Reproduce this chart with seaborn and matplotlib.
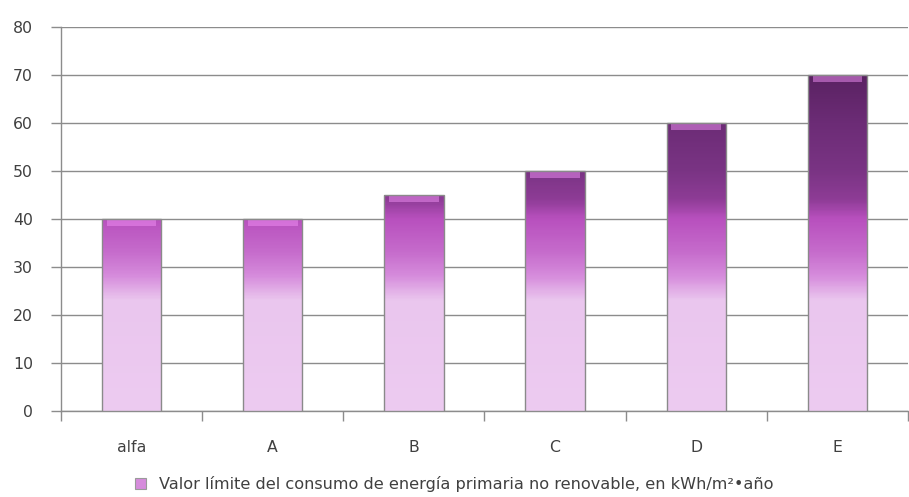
import numpy as np
import pandas as pd
import matplotlib
matplotlib.use("Agg")
import matplotlib.pyplot as plt
import seaborn as sns
from matplotlib.colors import LinearSegmentedColormap, Normalize
from matplotlib.patches import Patch

# data
categories = ["alfa", "A", "B", "C", "D", "E"]
values = [40, 40, 45, 50, 60, 70]
legend_label = "Valor límite del consumo de energía primaria no renovable, en kWh/m²•año"

# gradient (light pink at bottom, dark purple at top)
grad_stops = [0, 23, 28, 33, 40, 44, 50, 60, 70]
grad_colors = ["#edcbf1", "#eac6ee", "#d68cdc", "#c66ccc", "#b850be",
               "#8e3c96", "#7a3484", "#6c2c76", "#5a2262"]

cmap = LinearSegmentedColormap.from_list(
    "purp", list(zip(np.array(grad_stops) / 70, grad_colors)))
norm = Normalize(0, 70)

df = pd.DataFrame({"cat": categories, "val": values})

sns.set_style("white")
plt.rcParams["font.family"] = ["DejaVu Sans"]

fig = plt.figure(figsize=(9.09, 4.97), dpi=100)
ax = fig.add_axes([0.067, 0.173, 0.932, 0.7727])

sns.barplot(data=df, x="cat", y="val", color="#c262c8", width=0.42,
            edgecolor="#8a8a8a", linewidth=1.0, ax=ax, zorder=3)

# gradient fill clipped to each bar
for p in ax.patches:
    x0 = p.get_x()
    w = p.get_width()
    h = p.get_height()
    ys = np.linspace(0, h, 200).reshape(-1, 1)
    img = ax.imshow(cmap(norm(ys)), extent=[x0, x0 + w, 0, h], origin="lower",
                    aspect="auto", zorder=3.5, interpolation="bilinear")
    img.set_clip_path(p)
    # bevel highlight at top
    ax.fill_between([x0 + w * 0.08, x0 + w * 0.92], h - 1.5, h,
                    color="#f090f4", alpha=0.5, zorder=3.6, linewidth=0)
    p.set_facecolor("none")
    p.set_zorder(4)

ax.set_xlim(-0.5, len(categories) - 0.5)
ax.set_ylim(0, 80)
ax.set_yticks(range(0, 81, 10))
ax.yaxis.grid(True, color="#8c8c8c", linewidth=1.0, zorder=0)
ax.set_axisbelow(True)

# tick marks between categories
ax.set_xticks(np.arange(len(categories) + 1) - 0.5, minor=True)
ax.set_xticks(range(len(categories)))
ax.set_xticklabels(categories)
ax.tick_params(axis="x", which="major", length=0, pad=21, labelsize=11.3,
               labelcolor="#404040")
ax.tick_params(axis="x", which="minor", length=7, width=1, color="#8c8c8c",
               bottom=True)
ax.tick_params(axis="y", length=7.2, width=1, color="#8c8c8c", pad=13,
               labelsize=11.3, labelcolor="#404040", left=True)

ax.set_xlabel("")
ax.set_ylabel("")
sns.despine(ax=ax, top=True, right=True)
for s in ["left", "bottom"]:
    ax.spines[s].set_color("#8c8c8c")
    ax.spines[s].set_linewidth(1.0)

handle = Patch(facecolor="#d68cdc", edgecolor="#9a9a9a", linewidth=0.8)
fig.legend([handle], [legend_label], loc="center", bbox_to_anchor=(0.5, 0.026),
           frameon=False, fontsize=11.6, handlelength=0.7, handleheight=0.7,
           handletextpad=0.8, labelcolor="#404040")

fig.savefig("out.png", dpi=100)
